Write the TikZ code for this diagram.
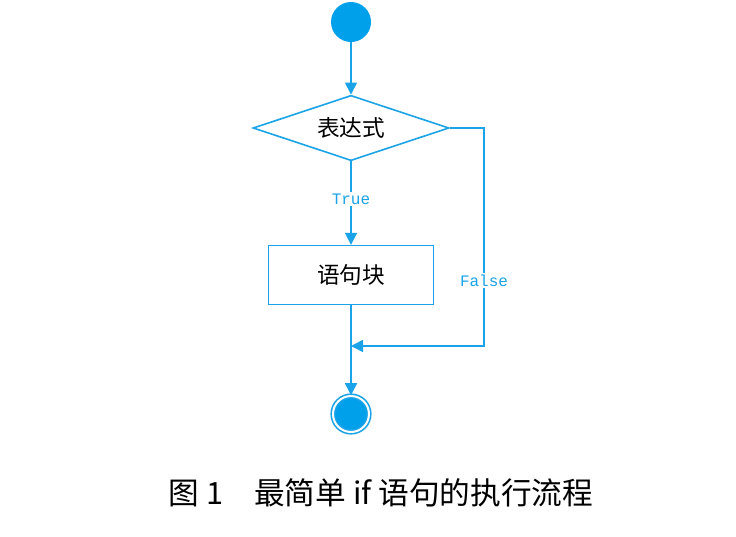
\documentclass[tikz,border=0pt]{standalone}
\usepackage{fontspec}
\newfontfamily\cjk{Noto Sans CJK SC}
\newfontfamily\monof{Liberation Mono}
\usetikzlibrary{shapes.geometric,arrows.meta}
\definecolor{flowblue}{HTML}{1AA3E8}
\definecolor{dotblue}{HTML}{00A0EA}
\begin{document}
\begin{tikzpicture}[x=0.75pt,y=-0.75pt]
	\tikzset{line/.style={flowblue,line width=1.2pt},
		arr/.style={line,-{Triangle[length=9pt,width=9pt]}},
		lbl/.style={font=\monof\fontsize{12}{12}\selectfont,fill=white,inner sep=1pt}}
	\useasboundingbox (0,0) rectangle (736,536);
	\node [circle,fill=dotblue,minimum size=30pt,inner sep=0pt] (start) at (351,22) {};
	\node [diamond,draw=flowblue,line width=1.2pt,minimum width=147pt,minimum height=49pt,aspect=3,inner sep=0pt,font=\cjk\fontsize{17}{17}\selectfont] (expr) at (351,128) {表达式};
	\node [draw=flowblue,line width=1.2pt,minimum width=124pt,minimum height=44pt,font=\cjk\fontsize{17}{17}\selectfont] (block) at (351,275) {语句块};
	\node [circle,draw=flowblue,line width=1.2pt,fill=dotblue,double=white,double distance=1.5pt,minimum size=27pt,inner sep=0pt] (stop) at (351,414) {};
	\coordinate (merge) at (351,346);
	\coordinate (corner) at (484,128);
	\draw [arr] (start) -- (expr);
	\draw [arr] (expr) -- node [lbl,pos=0.45] {True} (block);
	\draw [arr] (block) -- (stop);
	\draw [arr] (expr.east) -- (corner) -- node [lbl,pos=0.7] {False} (484,346) -- (merge);
	\node [font=\cjk\fontsize{23}{23}\selectfont] (caption) at (381,493) {图 1\quad 最简单 if 语句的执行流程};
\end{tikzpicture}
\end{document}
